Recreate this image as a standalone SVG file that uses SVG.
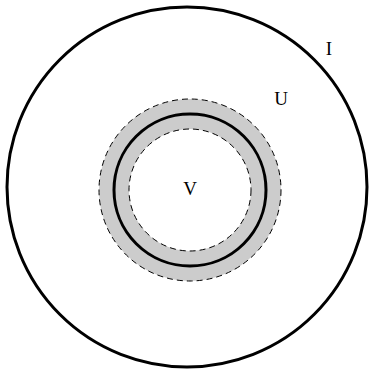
<svg xmlns="http://www.w3.org/2000/svg" width="369" height="369" viewBox="0 0 369 369">
<style>
.t{font-family:"Liberation Serif","Times New Roman",serif;font-size:19px;fill:#000;text-anchor:middle}
.d{fill:none;stroke:#000;stroke-width:1;stroke-dasharray:6,4}
</style>
<rect width="369" height="369" fill="#fff"/>
<g id="I">
<circle cx="187" cy="187" r="180" fill="none" stroke="#000" stroke-width="3"/>
<text class="t" x="329" y="55">I</text>
</g>
<g id="U">
<circle cx="190" cy="190" r="91" fill="#cccccc"/>
<circle cx="190" cy="190" r="61" fill="#fff"/>
<circle class="d" cx="190" cy="190" r="91"/>
<circle class="d" cx="190" cy="190" r="61"/>
<circle cx="190" cy="190" r="76" fill="none" stroke="#000" stroke-width="3"/>
<text class="t" x="281" y="105">U</text>
</g>
<g id="V">
<text class="t" x="190" y="195">V</text>
</g>
</svg>
